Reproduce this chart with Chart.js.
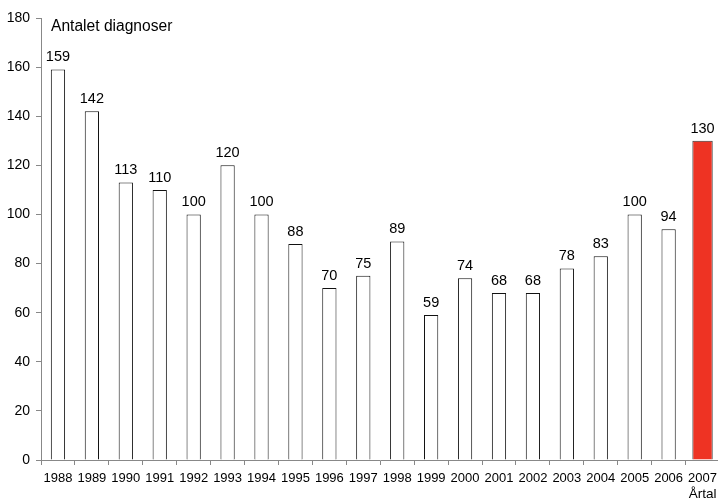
<!DOCTYPE html>
<html>
<head>
<meta charset="utf-8">
<script src="https://cdn.jsdelivr.net/npm/chart.js@4"></script>
<style>
  html, body { margin: 0; padding: 0; background: #fff; overflow: hidden; }
  canvas { display: block; }
</style>
</head>
<body>
<canvas id="bar-chart" width="723" height="499"></canvas>
<script>
const years = ['1988', '1989', '1990', '1991', '1992', '1993', '1994', '1995', '1996', '1997',
  '1998', '1999', '2000', '2001', '2002', '2003', '2004', '2005', '2006', '2007']
const diagnoses = [159, 142, 113, 110, 100, 120, 100, 88, 70, 75, 89, 59, 74, 68, 68, 78, 83, 100, 94, 130]
const yTicks = [0, 20, 40, 60, 80, 100, 120, 140, 160, 180]

const FONT = 'Liberation Sans, Arial, sans-serif'
const lastIdx = diagnoses.length - 1

// earlier years white, the latest year red (own dataset so it can be wider)
const earlier = diagnoses.map((v, i) => i === lastIdx ? null : v)
const latest = diagnoses.map((v, i) => i === lastIdx ? v : null)

// value above each bar + the two free texts
const labelsPlugin = {
  id: 'labels',
  afterDatasetsDraw(chart) {
    const ctx = chart.ctx
    ctx.save()
    ctx.fillStyle = '#000'
    ctx.font = '14.5px ' + FONT
    ctx.textAlign = 'center'
    ctx.textBaseline = 'bottom'
    let lastX = 0
    ;[0, 1].forEach(d => {
      chart.getDatasetMeta(d).data.forEach((bar, i) => {
        const v = chart.data.datasets[d].data[i]
        if (v == null) return
        ctx.fillText(String(v), bar.x, bar.y - 5)
        if (i === lastIdx) lastX = bar.x
      })
    })
    ctx.font = '15.6px ' + FONT
    ctx.textAlign = 'left'
    ctx.textBaseline = 'middle'
    ctx.fillText('Antalet diagnoser', chart.chartArea.left + 10, 27)
    ctx.font = '13.5px ' + FONT
    ctx.textAlign = 'center'
    ctx.fillText('Årtal', lastX, 494)
    ctx.restore()
  }
}

const barCtx = document.getElementById('bar-chart').getContext('2d')
new Chart(barCtx, {
  type: 'bar',
  data: {
    labels: years,
    datasets: [{
      data: earlier,
      backgroundColor: '#ffffff',
      borderColor: '#111',
      borderWidth: 1,
      borderSkipped: 'bottom',
      categoryPercentage: 1,
      barPercentage: 0.42,
      skipNull: true,
    }, {
      data: latest,
      backgroundColor: '#ee3323',
      borderColor: '#333',
      borderWidth: 1,
      borderSkipped: 'bottom',
      categoryPercentage: 1,
      barPercentage: 0.6,
      skipNull: true,
    }],
  },
  options: {
    responsive: false,
    animation: false,
    devicePixelRatio: 1,
    layout: { padding: { top: 18, right: 0, left: 0, bottom: 0 } },
    plugins: {
      legend: { display: false },
      tooltip: { enabled: false },
    },
    scales: {
      x: {
        grid: { display: true, drawOnChartArea: false, offset: true, tickLength: 5, color: '#888' },
        border: { color: '#888' },
        ticks: {
          color: '#000',
          font: { family: FONT, size: 13 },
          autoSkip: false,
          maxRotation: 0,
          padding: 6,
        },
        afterFit(scale) { scale.height = 39 },
      },
      y: {
        min: 0,
        max: 180,
        afterBuildTicks(scale) { scale.ticks = yTicks.map(v => ({ value: v })) },
        grid: { display: true, drawOnChartArea: false, tickLength: 5, color: '#888' },
        border: { color: '#888' },
        ticks: {
          color: '#000',
          font: { family: FONT, size: 14 },
          padding: 6,
        },
        afterFit(scale) { scale.width = 41 },
      },
    },
  },
  plugins: [labelsPlugin],
})
</script>
</body>
</html>
